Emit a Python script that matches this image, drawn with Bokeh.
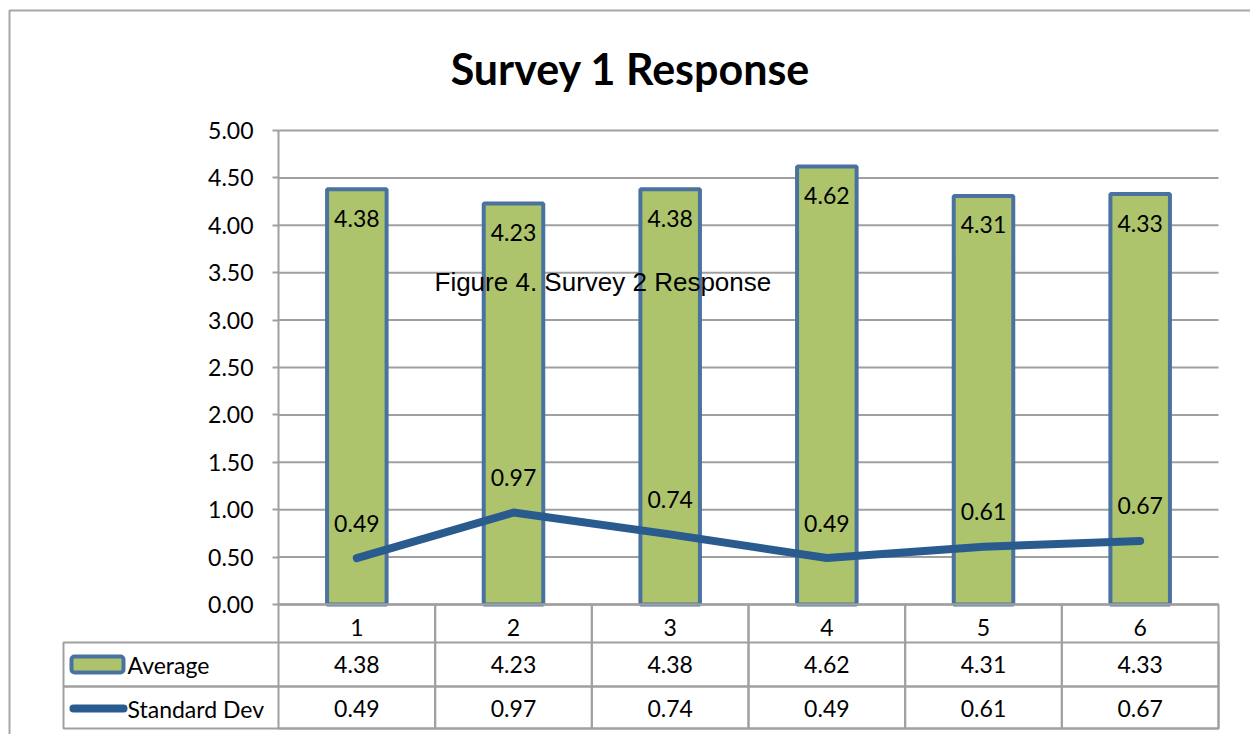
from bokeh.plotting import figure
from bokeh.models import (FixedTicker, PrintfTickFormatter, Label, BoxAnnotation,
                          ColumnDataSource, Range1d)
from bokeh.core.properties import value
from bokeh.embed import file_html
from bokeh.resources import INLINE

# ---- data ----
categories = ["1", "2", "3", "4", "5", "6"]
average = [4.38, 4.23, 4.38, 4.62, 4.31, 4.33]
std_dev = [0.49, 0.97, 0.74, 0.49, 0.61, 0.67]
y_ticks = [0.0, 0.5, 1.0, 1.5, 2.0, 2.5, 3.0, 3.5, 4.0, 4.5, 5.0]
series_names = ["Average", "Standard Dev"]
title_text = "Survey 1 Response"
overlay_text = "Figure 4. Survey 2 Response"

# ---- styles / layout (pixels) ----
GREEN = "#ADC46D"
BAR_EDGE = "#4A72A0"
LINE = "#2A5B8E"
GRAY = "#A0A0A0"
FONT = "Lato"
FS = "23px"
W, H = 1250, 734
PL, PR, PT, PB = 278, 1218, 130, 604       # plot area
Y_MIN, Y_MAX = y_ticks[0], y_ticks[-1]
n = len(categories)
ux = (PR - PL) / n
uy = (PB - PT) / (Y_MAX - Y_MIN)
x_start = 0.5 - PL / ux
x_end = 0.5 + (W - PL) / ux
y_start = Y_MIN - (H - PB) / uy
y_end = Y_MAX + PT / uy

xs = list(range(1, n + 1))
src = ColumnDataSource(dict(
    x=xs, avg=average, sd=std_dev,
    avg_lbl=[f"{v:.2f}" for v in average],
    sd_lbl=[f"{v:.2f}" for v in std_dev],
))

p = figure(width=W, height=H,
           x_range=Range1d(x_start, x_end), y_range=Range1d(y_start, y_end),
           output_backend="svg", toolbar_location=None, min_border=0,
           background_fill_color="white", border_fill_color="white",
           outline_line_color=None)
p.xgrid.visible = False
p.ygrid.visible = False

# horizontal gridlines restricted to the plot area
p.segment(x0=[0.5] * len(y_ticks), x1=[n + 0.5] * len(y_ticks), y0=y_ticks, y1=y_ticks,
          line_color=GRAY, line_width=2)

# y axis fixed at the plot area's left edge
p.yaxis.fixed_location = 0.5
p.yaxis.bounds = (Y_MIN, Y_MAX)
p.yaxis.ticker = FixedTicker(ticks=y_ticks)
p.yaxis.formatter = PrintfTickFormatter(format="%.2f")
p.yaxis.axis_line_color = GRAY
p.yaxis.axis_line_width = 2
p.yaxis.major_tick_line_color = GRAY
p.yaxis.major_tick_line_width = 2
p.yaxis.major_tick_out = 6
p.yaxis.major_tick_in = 0
p.yaxis.minor_tick_line_color = None
p.yaxis.major_label_standoff = 19
p.yaxis.major_label_text_font = FONT
p.yaxis.major_label_text_font_size = FS
p.yaxis.major_label_text_color = "black"

# x axis fixed at y=0 (category labels in table header row)
p.xaxis.fixed_location = Y_MIN
p.xaxis.bounds = (0.5, n + 0.5)
p.xaxis.ticker = FixedTicker(ticks=xs)
p.xaxis.major_label_overrides = {x: c for x, c in zip(xs, categories)}
p.xaxis.axis_line_color = GRAY
p.xaxis.axis_line_width = 2
p.xaxis.major_tick_line_color = None
p.xaxis.minor_tick_line_color = None
p.xaxis.major_label_standoff = 8
p.xaxis.major_label_text_font = FONT
p.xaxis.major_label_text_font_size = FS
p.xaxis.major_label_text_color = "black"

# bars
p.vbar(x="x", top="avg", bottom=0, width=0.38, source=src,
       fill_color=GREEN, line_color=BAR_EDGE, line_width=4)
# std dev line
p.line(x="x", y="sd", source=src, line_color=LINE, line_width=8,
       line_cap="round", line_join="round")

# data labels
p.text(x="x", y="avg", text="avg_lbl", source=src, text_align="center",
       text_baseline="middle", y_offset=29, text_font=value(FONT),
       text_font_size=FS, text_color="black")
p.text(x="x", y="sd", text="sd_lbl", source=src, text_align="center",
       text_baseline="middle", y_offset=-35, text_font=value(FONT),
       text_font_size=FS, text_color="black")

def cbox(**kw):
    return BoxAnnotation(left_units="canvas", right_units="canvas",
                         top_units="canvas", bottom_units="canvas",
                         line_alpha=1, **kw)

# outer chart border
p.add_layout(cbox(left=9, right=W + 50, top=10, bottom=H + 50,
                  fill_color=None, fill_alpha=0, line_color="#A6A6A6", line_width=2))

# data table grid
TOP_T, ROW1, ROW2, BOT_T = PB, 642, 686, 728
for (t, b) in [(ROW1, ROW2), (ROW2, BOT_T)]:
    p.add_layout(cbox(left=63, right=PR, top=t, bottom=b,
                      fill_color=None, fill_alpha=0, line_color=GRAY, line_width=2))
for x in xs:
    p.add_layout(BoxAnnotation(left=x - 0.5, right=x + 0.5, top=TOP_T, bottom=BOT_T,
                               left_units="data", right_units="data",
                               top_units="canvas", bottom_units="canvas",
                               fill_color=None, fill_alpha=0, line_color=GRAY,
                               line_alpha=1, line_width=2))

# legend keys in table
p.add_layout(cbox(left=71, right=123, top=656, bottom=672,
                  fill_color=GREEN, fill_alpha=1, line_color=BAR_EDGE,
                  line_width=4, border_radius=3))
p.add_layout(cbox(left=69, right=127, top=704, bottom=712,
                  fill_color=LINE, fill_alpha=1, line_color=None, border_radius=4))

ROW_Y = [664, 708]
for name, yy in zip(series_names, ROW_Y):
    p.add_layout(Label(x=127, y=yy, x_units="canvas", y_units="canvas", text=name,
                       text_align="left", text_baseline="middle",
                       text_font=FONT, text_font_size=FS, text_color="black"))

for x, a, s in zip(xs, average, std_dev):
    for v, yy in zip([a, s], ROW_Y):
        p.add_layout(Label(x=x, y=yy, x_units="data", y_units="canvas", text=f"{v:.2f}",
                           text_align="center", text_baseline="middle",
                           text_font=FONT, text_font_size=FS, text_color="black"))

# title
p.add_layout(Label(x=630, y=68, x_units="canvas", y_units="canvas", text=title_text,
                   text_align="center", text_baseline="middle",
                   text_font=FONT, text_font_size="43px", text_font_style="bold",
                   text_color="black"))
# overlay caption
p.add_layout(Label(x=434, y=281, x_units="canvas", y_units="canvas", text=overlay_text,
                   text_align="left", text_baseline="middle",
                   text_font="Liberation Sans", text_font_size="26px",
                   text_color="black"))

open("out.html", "w").write(file_html(p, INLINE))
